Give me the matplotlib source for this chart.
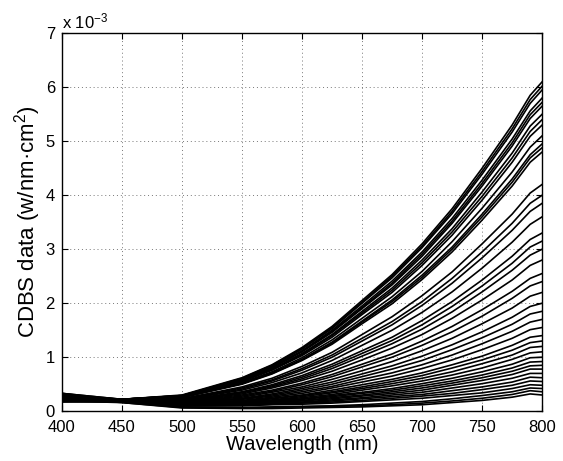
import numpy as np
import matplotlib
matplotlib.use("Agg")
import matplotlib.pyplot as plt

plt.rcParams['font.family'] = ['Liberation Sans', 'DejaVu Sans']
plt.rcParams['mathtext.fontset'] = 'custom'
plt.rcParams['mathtext.rm'] = 'Liberation Sans'
plt.rcParams['mathtext.it'] = 'Liberation Sans:italic'

wavelengths = [400, 450, 500, 550, 575, 600, 625, 650, 675, 700, 725, 750, 775, 790, 800]

# spectra values in units of 1e-3 W/nm/cm^2, one list per wavelength, one entry per spectrum
at_400 = [0.30, 0.27, 0.33, 0.25, 0.29, 0.22, 0.31, 0.26, 0.28, 0.24, 0.32, 0.20, 0.27,
          0.23, 0.30, 0.18, 0.26, 0.29, 0.21, 0.25, 0.33, 0.19, 0.28, 0.24, 0.22, 0.30,
          0.17, 0.26, 0.23, 0.27, 0.20, 0.29, 0.24, 0.18, 0.31, 0.22, 0.26, 0.19, 0.25,
          0.33, 0.28, 0.24, 0.31]
at_450 = [0.22, 0.22, 0.22, 0.22, 0.22, 0.21, 0.21, 0.21, 0.21, 0.21, 0.20, 0.20, 0.20,
          0.20, 0.20, 0.19, 0.19, 0.19, 0.19, 0.19, 0.19, 0.18, 0.18, 0.18, 0.18, 0.18,
          0.18, 0.18, 0.18, 0.18, 0.17, 0.17, 0.17, 0.17, 0.17, 0.17, 0.17, 0.16, 0.16,
          0.22, 0.22, 0.21, 0.21]
at_500 = [0.30, 0.29, 0.29, 0.28, 0.28, 0.27, 0.26, 0.26, 0.25, 0.23, 0.23, 0.22, 0.21,
          0.20, 0.20, 0.19, 0.19, 0.18, 0.17, 0.17, 0.16, 0.15, 0.15, 0.14, 0.14, 0.13,
          0.13, 0.13, 0.12, 0.12, 0.12, 0.12, 0.11, 0.11, 0.10, 0.10, 0.08, 0.07, 0.06,
          0.29, 0.28, 0.27, 0.26]
at_550 = [0.62, 0.60, 0.59, 0.58, 0.56, 0.55, 0.53, 0.51, 0.50, 0.45, 0.43, 0.41, 0.39,
          0.36, 0.35, 0.34, 0.32, 0.30, 0.28, 0.26, 0.24, 0.23, 0.22, 0.20, 0.19, 0.18,
          0.17, 0.16, 0.15, 0.15, 0.14, 0.13, 0.13, 0.12, 0.11, 0.10, 0.07, 0.06, 0.05,
          0.61, 0.58, 0.55, 0.51]
at_575 = [0.86, 0.84, 0.82, 0.80, 0.78, 0.76, 0.73, 0.71, 0.69, 0.61, 0.58, 0.56, 0.53,
          0.49, 0.47, 0.45, 0.43, 0.39, 0.37, 0.35, 0.32, 0.30, 0.28, 0.26, 0.24, 0.23,
          0.21, 0.20, 0.19, 0.18, 0.17, 0.16, 0.15, 0.14, 0.13, 0.12, 0.08, 0.07, 0.05,
          0.85, 0.81, 0.77, 0.70]
at_600 = [1.18, 1.15, 1.12, 1.10, 1.07, 1.03, 0.99, 0.96, 0.94, 0.83, 0.79, 0.76, 0.71,
          0.66, 0.63, 0.60, 0.57, 0.52, 0.49, 0.45, 0.42, 0.39, 0.36, 0.33, 0.30, 0.29,
          0.27, 0.25, 0.23, 0.22, 0.20, 0.19, 0.17, 0.16, 0.15, 0.13, 0.09, 0.08, 0.06,
          1.16, 1.11, 1.05, 0.95]
at_625 = [1.57, 1.53, 1.50, 1.46, 1.42, 1.37, 1.32, 1.28, 1.24, 1.09, 1.04, 1.00, 0.94,
          0.87, 0.83, 0.79, 0.74, 0.68, 0.64, 0.59, 0.54, 0.50, 0.46, 0.43, 0.39, 0.36,
          0.34, 0.31, 0.29, 0.27, 0.25, 0.23, 0.21, 0.19, 0.17, 0.15, 0.10, 0.09, 0.07,
          1.55, 1.48, 1.40, 1.26]
at_650 = [2.05, 2.00, 1.95, 1.90, 1.85, 1.79, 1.72, 1.67, 1.62, 1.42, 1.35, 1.30, 1.22,
          1.12, 1.07, 1.02, 0.95, 0.87, 0.82, 0.75, 0.69, 0.64, 0.59, 0.54, 0.49, 0.45,
          0.42, 0.39, 0.35, 0.33, 0.30, 0.28, 0.25, 0.23, 0.20, 0.18, 0.12, 0.10, 0.08,
          2.02, 1.92, 1.82, 1.65]
at_675 = [2.53, 2.47, 2.41, 2.34, 2.28, 2.20, 2.12, 2.06, 1.99, 1.75, 1.66, 1.60, 1.50,
          1.37, 1.31, 1.25, 1.17, 1.06, 1.00, 0.92, 0.84, 0.78, 0.71, 0.65, 0.59, 0.55,
          0.51, 0.47, 0.42, 0.39, 0.36, 0.33, 0.30, 0.27, 0.24, 0.21, 0.15, 0.12, 0.10,
          2.50, 2.37, 2.24, 2.03]
at_700 = [3.10, 3.03, 2.95, 2.87, 2.80, 2.70, 2.59, 2.52, 2.44, 2.14, 2.03, 1.96, 1.83,
          1.68, 1.60, 1.52, 1.42, 1.30, 1.22, 1.12, 1.02, 0.94, 0.86, 0.79, 0.71, 0.66,
          0.61, 0.56, 0.51, 0.47, 0.43, 0.39, 0.35, 0.31, 0.28, 0.24, 0.18, 0.15, 0.12,
          3.06, 2.91, 2.75, 2.48]
at_725 = [3.75, 3.66, 3.57, 3.48, 3.38, 3.26, 3.14, 3.04, 2.95, 2.58, 2.46, 2.37, 2.21,
          2.03, 1.94, 1.84, 1.72, 1.57, 1.47, 1.35, 1.23, 1.14, 1.04, 0.95, 0.86, 0.80,
          0.73, 0.67, 0.61, 0.56, 0.52, 0.48, 0.43, 0.38, 0.33, 0.29, 0.23, 0.19, 0.16,
          3.70, 3.52, 3.32, 3.00]
at_750 = [4.50, 4.39, 4.28, 4.17, 4.06, 3.91, 3.76, 3.65, 3.54, 3.10, 2.95, 2.84, 2.65,
          2.43, 2.32, 2.21, 2.06, 1.88, 1.76, 1.62, 1.47, 1.36, 1.25, 1.14, 1.02, 0.95,
          0.88, 0.80, 0.73, 0.67, 0.62, 0.57, 0.51, 0.45, 0.40, 0.34, 0.29, 0.24, 0.20,
          4.44, 4.22, 3.98, 3.60]
at_775 = [5.30, 5.17, 5.04, 4.91, 4.78, 4.61, 4.43, 4.30, 4.17, 3.65, 3.48, 3.35, 3.13,
          2.87, 2.74, 2.61, 2.43, 2.22, 2.09, 1.91, 1.74, 1.61, 1.48, 1.35, 1.22, 1.13,
          1.04, 0.96, 0.87, 0.80, 0.74, 0.68, 0.61, 0.54, 0.48, 0.42, 0.36, 0.31, 0.26,
          5.23, 4.97, 4.69, 4.24]
at_790 = [5.85, 5.70, 5.56, 5.42, 5.28, 5.09, 4.89, 4.75, 4.61, 4.04, 3.85, 3.70, 3.46,
          3.18, 3.04, 2.89, 2.70, 2.46, 2.32, 2.13, 1.94, 1.80, 1.65, 1.51, 1.37, 1.27,
          1.18, 1.08, 0.99, 0.91, 0.84, 0.78, 0.70, 0.63, 0.56, 0.49, 0.43, 0.38, 0.32,
          5.77, 5.49, 5.18, 4.69]
at_800 = [6.10, 5.95, 5.80, 5.65, 5.50, 5.30, 5.10, 4.95, 4.80, 4.20, 4.00, 3.85, 3.60,
          3.30, 3.15, 3.00, 2.80, 2.55, 2.40, 2.20, 2.00, 1.85, 1.70, 1.55, 1.40, 1.30,
          1.20, 1.10, 1.00, 0.92, 0.85, 0.78, 0.70, 0.62, 0.55, 0.48, 0.42, 0.36, 0.30,
          6.02, 5.72, 5.40, 4.88]

spectra = np.array([at_400, at_450, at_500, at_550, at_575, at_600, at_625, at_650,
                    at_675, at_700, at_725, at_750, at_775, at_790, at_800])

fig = plt.figure(figsize=(5.63, 4.61), dpi=100)
ax = fig.add_axes([0.110, 0.108, 0.853, 0.820])

ax.plot(wavelengths, spectra, color='black', linewidth=1.2)

ax.set_xlim(400, 800)
ax.set_ylim(0, 7)
ax.set_xticks(range(400, 801, 50))
ax.set_yticks(range(0, 8))
ax.grid(True, linestyle=(0, (1, 3)), color='#777777', linewidth=0.7)
ax.tick_params(direction='in', top=True, right=True, labelsize=12, length=4)
ax.tick_params(axis='x', pad=6)
ax.tick_params(axis='y', pad=5)
for s in ax.spines.values():
    s.set_linewidth(1.0)

ax.set_xlabel('Wavelength (nm)', fontsize=14.5, labelpad=0)
ax.set_ylabel('CDBS data (w/nm\u00b7cm$^2$)', fontsize=16, labelpad=2)
ax.text(0.0, 1.005, 'x 10$^{-3}$', transform=ax.transAxes, fontsize=12,
        ha='left', va='bottom')

fig.savefig('out.png', dpi=100)
